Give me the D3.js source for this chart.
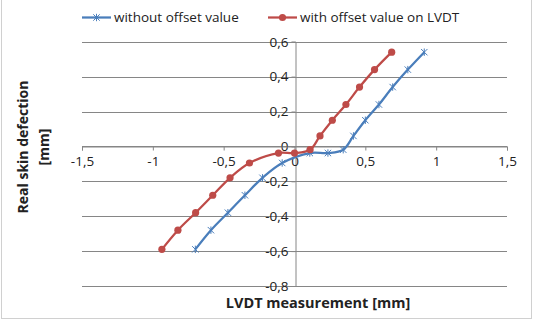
<!DOCTYPE html>
<html>
<head>
<meta charset="utf-8">
<script src="https://cdn.jsdelivr.net/npm/d3@7"></script>
<style>
  body { margin: 0; background: #fff; }
  svg { display: block; font-family: "Open Sans", "Liberation Sans", sans-serif; }
</style>
</head>
<body>
<div id="chart"></div>
<script>
// series values
const seriesNames = ['without offset value', 'with offset value on LVDT'];
const deflection = [-0.59, -0.48, -0.38, -0.28, -0.18, -0.095, -0.038, -0.038, -0.019, 0.06, 0.15, 0.24, 0.34, 0.44, 0.54];
const lvdtWithout = [-0.70, -0.59, -0.47, -0.35, -0.226, -0.087, 0.108, 0.236, 0.344, 0.416, 0.50, 0.596, 0.693, 0.80, 0.916];
const lvdtWith = [-0.936, -0.823, -0.698, -0.577, -0.455, -0.318, -0.113, 0.0, 0.11, 0.18, 0.267, 0.363, 0.459, 0.565, 0.686];
const xTicks = [-1.5, -1, -0.5, 0, 0.5, 1, 1.5];
const yTicks = [-0.8, -0.6, -0.4, -0.2, 0, 0.2, 0.4, 0.6];

const width = 533;
const height = 320;
const blue = '#4a7ebb';
const red = '#be4b48';
const grid = '#868686';

const locale = d3.formatLocale({decimal: ',', thousands: '.', grouping: [3], currency: ['', ''], minus: '-'});
const fmt = locale.format('');
const tickText = d => fmt(+d.toFixed(1));

const svg = d3.select('#chart').append('svg')
  .attr('width', width)
  .attr('height', height);

// outer frame
svg.append('rect')
  .attr('x', 1.5).attr('y', -1)
  .attr('width', 530).attr('height', 319.5)
  .attr('fill', 'none')
  .attr('stroke', '#d0d0d0');

const scaleX = d3.scaleLinear().domain([-1.5, 1.5]).range([82, 507]);
const scaleY = d3.scaleLinear().domain([-0.8, 0.6]).range([286, 41.7]);

// horizontal gridlines
svg.append('g')
  .selectAll('line')
  .data(yTicks)
  .join('line')
  .attr('x1', scaleX(-1.5)).attr('x2', scaleX(1.5))
  .attr('y1', d => Math.round(scaleY(d)) + 0.5)
  .attr('y2', d => Math.round(scaleY(d)) + 0.5)
  .attr('stroke', grid)
  .attr('stroke-width', 1);

// y axis at x = 0
const axisY = d3.axisLeft(scaleY).tickValues(yTicks).tickFormat(tickText).tickSize(4).tickPadding(3);
const gy = svg.append('g')
  .attr('transform', `translate(${Math.round(scaleX(0)) + 0.5}, 0)`)
  .call(axisY);
gy.select('.domain').attr('stroke', grid);
gy.selectAll('.tick line').attr('stroke', grid);
gy.selectAll('.tick text').attr('font-size', 13.5).attr('fill', '#222')
  .attr('font-family', '"Open Sans", sans-serif');

// x axis at y = 0
const axisX = d3.axisBottom(scaleX).tickValues(xTicks).tickFormat(tickText).tickSize(4).tickPadding(6);
const gx = svg.append('g')
  .attr('transform', `translate(0, ${Math.round(scaleY(0)) + 0.5})`)
  .call(axisX);
gx.select('.domain').attr('stroke', grid);
gx.selectAll('.tick line').attr('stroke', grid);
gx.selectAll('.tick text').attr('font-size', 13.5).attr('fill', '#222')
  .attr('font-family', '"Open Sans", sans-serif');

const line = d3.line()
  .x(d => scaleX(d[0]))
  .y(d => scaleY(d[1]))
  .curve(d3.curveCatmullRom.alpha(0.5));

const dataWithout = lvdtWithout.map((x, i) => [x, deflection[i]]);
const dataWith = lvdtWith.map((x, i) => [x, deflection[i]]);

function starMarker(g, x, y, color) {
  const s = 3.2;
  g.append('path')
    .attr('d', `M${x - s},${y - s}L${x + s},${y + s}M${x - s},${y + s}L${x + s},${y - s}M${x},${y - s - 0.5}L${x},${y + s + 0.5}`)
    .attr('stroke', color)
    .attr('stroke-width', 1)
    .attr('fill', 'none');
}

// blue series
svg.append('path')
  .attr('fill', 'none')
  .attr('stroke', blue)
  .attr('stroke-width', 2.25)
  .attr('d', line(dataWithout));
const blueMarks = svg.append('g');
dataWithout.forEach(d => starMarker(blueMarks, scaleX(d[0]), scaleY(d[1]), blue));

// red series
svg.append('path')
  .attr('fill', 'none')
  .attr('stroke', red)
  .attr('stroke-width', 2.25)
  .attr('d', line(dataWith));
svg.append('g')
  .selectAll('circle')
  .data(dataWith)
  .join('circle')
  .attr('cx', d => scaleX(d[0]))
  .attr('cy', d => scaleY(d[1]))
  .attr('r', 3.6)
  .attr('fill', red);

// legend
const legend = svg.append('g').attr('font-size', 13.5).attr('fill', '#222');
const legendItems = [
  {name: seriesNames[0], color: blue, x: 82, star: true},
  {name: seriesNames[1], color: red, x: 268, star: false}
];
legendItems.forEach(it => {
  legend.append('line')
    .attr('x1', it.x).attr('x2', it.x + 29)
    .attr('y1', 17.5).attr('y2', 17.5)
    .attr('stroke', it.color)
    .attr('stroke-width', 2.25);
  if (it.star) {
    starMarker(legend, it.x + 14.5, 17.5, it.color);
  } else {
    legend.append('circle')
      .attr('cx', it.x + 14.5).attr('cy', 17.5).attr('r', 3.6)
      .attr('fill', it.color);
  }
  legend.append('text')
    .attr('x', it.x + 32).attr('y', 17.5)
    .attr('dy', '0.35em')
    .text(it.name);
});

// axis titles
svg.append('text')
  .attr('x', 318).attr('y', 303)
  .attr('dy', '0.35em')
  .attr('text-anchor', 'middle')
  .attr('font-size', 14.5)
  .attr('font-weight', 'bold')
  .attr('fill', '#222')
  .text('LVDT measurement [mm]');

const yTitle = svg.append('text')
  .attr('transform', 'translate(23, 147) rotate(-90)')
  .attr('text-anchor', 'middle')
  .attr('font-size', 14)
  .attr('font-weight', 'bold')
  .attr('fill', '#222');
yTitle.append('tspan').attr('x', 0).attr('dy', '0.35em').text('Real skin defection');
yTitle.append('tspan').attr('x', 0).attr('dy', '1.5em').text('[mm]');
</script>
</body>
</html>
